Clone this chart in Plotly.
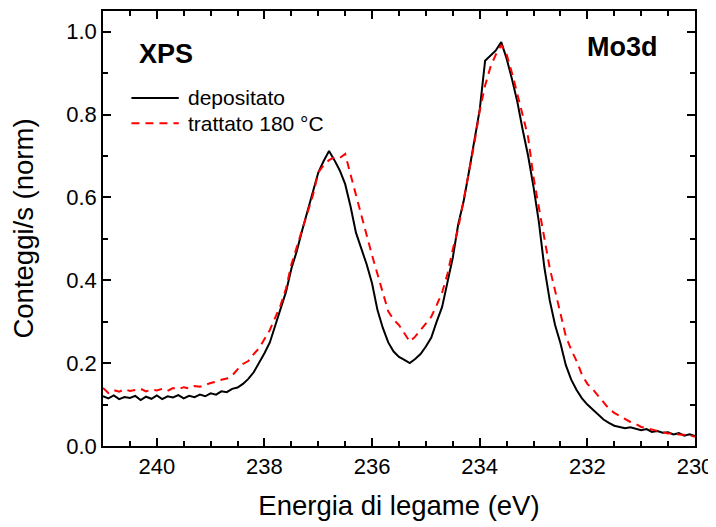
import plotly.graph_objects as go

energy = [241.0, 240.9, 240.8, 240.7, 240.6, 240.5, 240.4, 240.3, 240.2, 240.1,
          240.0, 239.9, 239.8, 239.7, 239.6, 239.5, 239.4, 239.3, 239.2, 239.1,
          239.0, 238.9, 238.8, 238.7, 238.6, 238.5, 238.4, 238.3, 238.2, 238.1,
          238.0, 237.9, 237.8, 237.7, 237.6, 237.5, 237.4, 237.3, 237.2, 237.1,
          237.0, 236.9, 236.8, 236.7, 236.6, 236.5, 236.4, 236.3, 236.2, 236.1,
          236.0, 235.9, 235.8, 235.7, 235.6, 235.5, 235.4, 235.3, 235.2, 235.1,
          235.0, 234.9, 234.8, 234.7, 234.6, 234.5, 234.4, 234.3, 234.2, 234.1,
          234.0, 233.9, 233.8, 233.7, 233.6, 233.5, 233.4, 233.3, 233.2, 233.1,
          233.0, 232.9, 232.8, 232.7, 232.6, 232.5, 232.4, 232.3, 232.2, 232.1,
          232.0, 231.9, 231.8, 231.7, 231.6, 231.5, 231.4, 231.3, 231.2, 231.1,
          231.0, 230.9, 230.8, 230.7, 230.6, 230.5, 230.4, 230.3, 230.2, 230.1,
          230.0]

depositato = [0.120, 0.115, 0.122, 0.113, 0.118, 0.116, 0.121, 0.111, 0.119, 0.114,
              0.122, 0.113, 0.120, 0.117, 0.123, 0.115, 0.121, 0.118, 0.124, 0.120,
              0.127, 0.124, 0.132, 0.130, 0.138, 0.141, 0.150, 0.162, 0.178, 0.200,
              0.224, 0.250, 0.290, 0.328, 0.372, 0.428, 0.470, 0.520, 0.566, 0.612,
              0.660, 0.688, 0.712, 0.690, 0.665, 0.632, 0.578, 0.515, 0.478, 0.438,
              0.392, 0.328, 0.285, 0.250, 0.228, 0.215, 0.208, 0.200, 0.210, 0.222,
              0.240, 0.262, 0.300, 0.335, 0.395, 0.455, 0.535, 0.590, 0.662, 0.738,
              0.812, 0.930, 0.942, 0.955, 0.975, 0.935, 0.885, 0.830, 0.762, 0.700,
              0.625, 0.540, 0.432, 0.352, 0.292, 0.248, 0.195, 0.160, 0.135, 0.115,
              0.100, 0.088, 0.076, 0.064, 0.056, 0.049, 0.046, 0.043, 0.045, 0.041,
              0.038, 0.041, 0.034, 0.036, 0.032, 0.033, 0.028, 0.031, 0.025, 0.028,
              0.024]

trattato = [0.140, 0.128, 0.135, 0.131, 0.137, 0.133, 0.135, 0.138, 0.132, 0.136,
            0.134, 0.138, 0.133, 0.140, 0.137, 0.142, 0.139, 0.145, 0.143, 0.148,
            0.152, 0.155, 0.160, 0.163, 0.170, 0.185, 0.198, 0.205, 0.222, 0.236,
            0.258, 0.280, 0.310, 0.340, 0.380, 0.438, 0.480, 0.522, 0.562, 0.605,
            0.660, 0.678, 0.690, 0.697, 0.695, 0.705, 0.655, 0.605, 0.560, 0.506,
            0.460, 0.415, 0.370, 0.325, 0.305, 0.292, 0.272, 0.252, 0.264, 0.280,
            0.295, 0.312, 0.340, 0.370, 0.415, 0.475, 0.525, 0.595, 0.660, 0.730,
            0.810, 0.870, 0.915, 0.945, 0.968, 0.945, 0.900, 0.852, 0.798, 0.745,
            0.648, 0.575, 0.500, 0.430, 0.375, 0.316, 0.265, 0.232, 0.205, 0.172,
            0.150, 0.137, 0.122, 0.105, 0.090, 0.080, 0.072, 0.064, 0.058, 0.053,
            0.046, 0.043, 0.040, 0.036, 0.033, 0.030, 0.031, 0.028, 0.027, 0.026,
            0.022]

series_names = ["depositato", "trattato 180 °C"]
series_colors = ["black", "#ff0000"]
series_dashes = ["solid", "8px,6px"]
x_tickvals = [240, 238, 236, 234, 232, 230]
y_tickvals = [0.0, 0.2, 0.4, 0.6, 0.8, 1.0]

FONT = "Liberation Sans, Arial, sans-serif"

fig = go.Figure()
for name, yv, col, dsh in zip(series_names, [depositato, trattato], series_colors, series_dashes):
    fig.add_trace(go.Scatter(x=energy, y=yv, mode="lines", name=name, showlegend=False,
                             line=dict(color=col, width=2, dash=dsh)))

axis_common = dict(showline=True, linecolor="black", linewidth=1.5, mirror="ticks",
                   ticks="inside", ticklen=8, tickwidth=1.5, tickcolor="black",
                   showgrid=False, zeroline=False,
                   tickfont=dict(family=FONT, size=22, color="black"))

fig.update_xaxes(range=[241, 230], tickvals=x_tickvals,
                 title=dict(text="Energia di legame (eV)", font=dict(family=FONT, size=27.5, color="black"),
                            standoff=18),
                 minor=dict(ticks="inside", ticklen=5, tickwidth=1.5, tickcolor="black", dtick=0.5,
                            tick0=230, showgrid=False),
                 **axis_common)
fig.update_yaxes(range=[0, 1.05], tickvals=y_tickvals, tickformat=".1f",
                 title=dict(text="Conteggi/s (norm)", font=dict(family=FONT, size=27.5, color="black"),
                            standoff=26),
                 minor=dict(ticks="inside", ticklen=5, tickwidth=1.5, tickcolor="black", dtick=0.1,
                            tick0=0, showgrid=False),
                 **axis_common)

# hand-drawn legend (sample lines + labels) in paper coordinates
legend_y = [0.800, 0.742]
shapes = []
annotations = []
for name, col, dsh, ly in zip(series_names, series_colors, series_dashes, legend_y):
    shapes.append(dict(type="line", xref="paper", yref="paper", x0=0.048, x1=0.128, y0=ly, y1=ly,
                       line=dict(color=col, width=2, dash=dsh)))
    annotations.append(dict(text=name, x=0.141, y=ly, xref="paper", yref="paper",
                            xanchor="left", yanchor="middle", showarrow=False,
                            font=dict(family=FONT, size=21, color="black")))

annotations += [
    dict(text="<b>XPS</b>", x=0.057, y=0.902, xref="paper", yref="paper",
         xanchor="left", yanchor="middle", showarrow=False,
         font=dict(family=FONT, size=27, color="black")),
    dict(text="<b>Mo3d</b>", x=0.941, y=0.918, xref="paper", yref="paper",
         xanchor="right", yanchor="middle", showarrow=False,
         font=dict(family=FONT, size=27, color="black")),
]

fig.update_layout(
    width=708, height=519,
    margin=dict(l=95, r=21, t=1, b=81),
    plot_bgcolor="white", paper_bgcolor="white",
    font=dict(family=FONT, color="black"),
    showlegend=False,
    shapes=shapes,
    annotations=annotations,
)

fig.write_html("out.html")
